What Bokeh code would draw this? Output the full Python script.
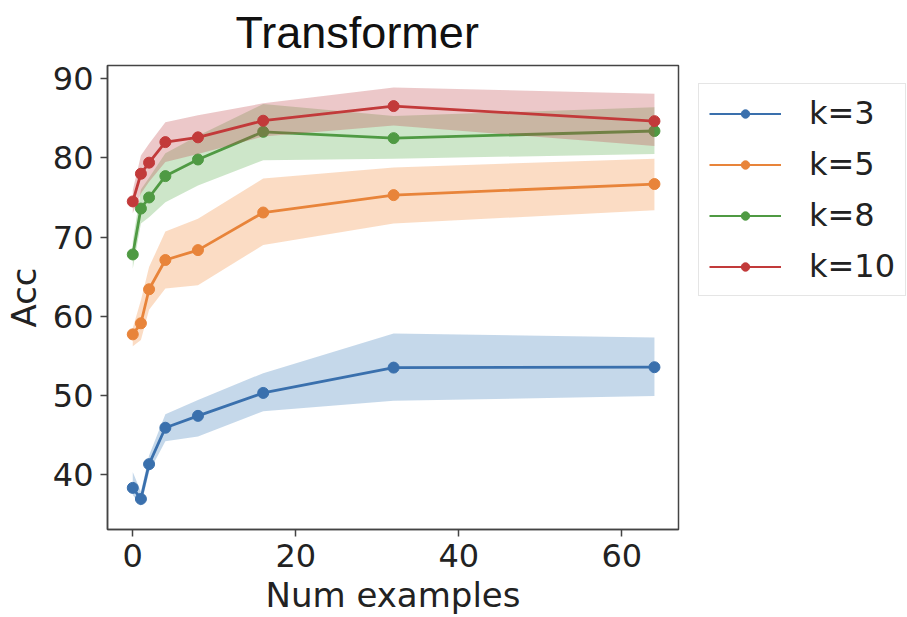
from bokeh.plotting import figure
from bokeh.layouts import row
from bokeh.models import Range1d, Legend, LegendItem, ColumnDataSource, FixedTicker
from bokeh.embed import file_html
from bokeh.resources import INLINE

# Number of in-context examples
num_examples = [0, 1, 2, 4, 8, 16, 32, 64]

# Mean accuracy and band (low / high) for each k
k3_mean = [38.3, 36.9, 41.3, 45.9, 47.4, 50.3, 53.5, 53.55]
k3_low = [37.4, 36.0, 40.3, 44.2, 44.8, 48.0, 49.3, 49.9]
k3_high = [40.3, 37.8, 42.4, 47.6, 49.4, 52.8, 57.8, 57.3]

k5_mean = [57.7, 59.1, 63.4, 67.1, 68.35, 73.1, 75.3, 76.7]
k5_low = [56.2, 57.0, 60.8, 63.5, 63.9, 69.0, 71.7, 73.4]
k5_high = [58.5, 62.0, 66.2, 70.7, 72.3, 77.4, 78.8, 79.9]

k8_mean = [67.8, 73.6, 75.0, 77.7, 79.8, 83.3, 82.5, 83.4]
k8_low = [66.0, 71.7, 72.5, 74.4, 76.5, 79.7, 79.9, 80.5]
k8_high = [69.5, 76.0, 77.5, 80.6, 82.8, 86.8, 85.3, 86.4]

k10_mean = [74.5, 78.0, 79.4, 82.0, 82.6, 84.7, 86.55, 84.65]
k10_low = [73.0, 75.5, 77.0, 79.5, 80.5, 82.7, 84.1, 81.5]
k10_high = [75.9, 80.3, 81.8, 84.5, 85.4, 86.9, 88.9, 88.1]

series_labels = ["k=3", "k=5", "k=8", "k=10"]
series_colors = ["#3a70ad", "#e8843a", "#4f9a43", "#c23a3a"]
band_colors = ["#3f7fb8", "#f28a3c", "#58ad4c", "#c0484c"]

x_ticks = [0, 20, 40, 60]
y_ticks = [40, 50, 60, 70, 80, 90]

H = 617
MAIN_W = 680
SIDE_W = 907 - MAIN_W

p = figure(width=MAIN_W, height=H, output_backend="svg", toolbar_location=None,
           x_range=Range1d(-3.1, 66.95), y_range=Range1d(33.04, 91.68),
           min_border_left=107, min_border_right=2,
           min_border_top=65, min_border_bottom=87,
           title="Transformer")

p.title.text_font = "Liberation Sans"
p.title.text_font_size = "45px"
p.title.text_font_style = "normal"
p.title.align = "left"
p.title.vertical_align = "top"
p.title.offset = 128
p.title.standoff = 11
p.title.text_color = "#111111"

p.grid.visible = False
p.outline_line_color = "#444444"
p.outline_line_width = 1.5
p.background_fill_color = "white"
p.border_fill_color = "white"

p.xaxis.ticker = FixedTicker(ticks=x_ticks)
p.yaxis.ticker = FixedTicker(ticks=y_ticks)
for ax in (p.xaxis[0], p.yaxis[0]):
    ax.axis_line_color = "#444444"
    ax.axis_line_width = 1.5
    ax.major_tick_line_color = "#444444"
    ax.major_tick_line_width = 1.5
    ax.major_tick_in = 0
    ax.major_tick_out = 7
    ax.minor_tick_line_color = None
    ax.major_label_text_font = "DejaVu Sans"
    ax.major_label_text_font_size = "32px"
    ax.major_label_text_color = "#222222"
    ax.axis_label_text_font = "DejaVu Sans"
    ax.axis_label_text_font_size = "34px"
    ax.axis_label_text_font_style = "normal"
    ax.axis_label_text_color = "#222222"

p.xaxis.axis_label = "Num examples"
p.yaxis.axis_label = "Acc"
p.xaxis.major_label_standoff = 7
p.yaxis.major_label_standoff = 7
p.xaxis.axis_label_standoff = 5
p.yaxis.axis_label_standoff = 6

all_series = [
    (k3_mean, k3_low, k3_high),
    (k5_mean, k5_low, k5_high),
    (k8_mean, k8_low, k8_high),
    (k10_mean, k10_low, k10_high),
]

sources = []
for (mean, low, high), color, bcolor in zip(all_series, series_colors, band_colors):
    src = ColumnDataSource(dict(x=num_examples, y=mean, lo=low, hi=high))
    sources.append(src)
    p.varea(x="x", y1="lo", y2="hi", source=src, fill_color=bcolor, fill_alpha=0.3)
    p.line(x="x", y="y", source=src, line_color=color, line_width=2.8)
    p.scatter(x="x", y="y", source=src, size=11, fill_color=color, line_color=color)

# Side panel holding the legend, outside the axes on the right.
# Its renderers share the series data but sit outside this panel's ranges,
# so only their legend entries are drawn.
q = figure(width=SIDE_W, height=H, output_backend="svg", toolbar_location=None,
           x_axis_type=None, y_axis_type=None,
           x_range=Range1d(1000, 1001), y_range=Range1d(1000, 1001),
           min_border_left=0, min_border_right=0,
           min_border_top=0, min_border_bottom=0)
q.grid.visible = False
q.outline_line_color = None
q.background_fill_color = "white"
q.border_fill_color = "white"

items = []
for label, color, src in zip(series_labels, series_colors, sources):
    ln = q.line(x="x", y="y", source=src, line_color=color, line_width=2.2)
    sc = q.scatter(x="x", y="y", source=src, size=8, fill_color=color,
                   line_color=color)
    items.append(LegendItem(label=label, renderers=[ln, sc]))

legend = Legend(items=items, location="top_left")
legend.label_text_font = "DejaVu Sans"
legend.label_text_font_size = "32px"
legend.label_text_color = "#222222"
legend.glyph_width = 72
legend.glyph_height = 21
legend.label_height = 34
legend.label_standoff = 28
legend.padding = 10
legend.spacing = 13
legend.margin = 18
legend.border_line_color = "#cccccc"
legend.border_line_width = 1
legend.background_fill_color = "white"
legend.background_fill_alpha = 1.0
q.add_layout(legend, "center")

layout = row(p, q)
open("out.html", "w").write(file_html(layout, INLINE))
